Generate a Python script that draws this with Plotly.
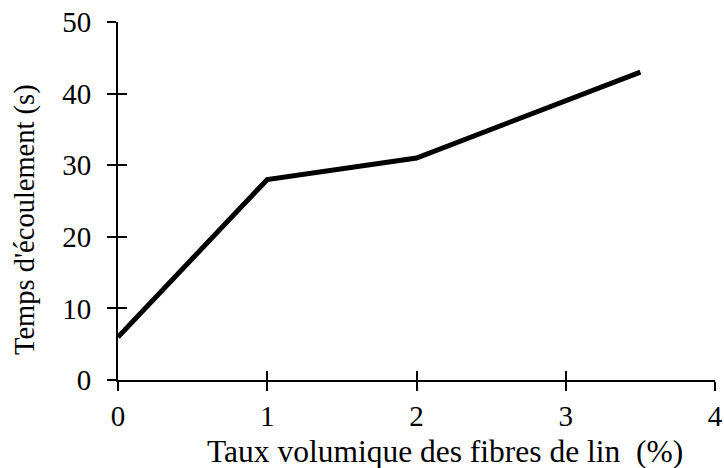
import plotly.graph_objects as go

# data
taux = [0, 1, 2, 3.5]
temps = [6, 28, 31, 43]
x_ticks = [0, 1, 2, 3, 4]
y_ticks = [0, 10, 20, 30, 40, 50]

FONT = "Liberation Serif, Times New Roman, serif"

W, H = 724, 468
L, R, T, B = 118, 9, 22, 88
PW, PH = W - L - R, H - T - B

fig = go.Figure()
fig.add_trace(go.Scatter(
    x=taux, y=temps, mode='lines',
    line=dict(color='black', width=5),
    showlegend=False, hoverinfo='skip'
))

axis_common = dict(
    showgrid=False, zeroline=False, showline=True, linecolor='black', linewidth=2,
    ticks='outside', ticklen=9, tickwidth=2, tickcolor='black', automargin=False,
    ticklabeloverflow='allow',
    tickfont=dict(family=FONT, size=29, color='black'),
)

fig.update_layout(
    width=W, height=H,
    margin=dict(l=L, r=R, t=T, b=B),
    plot_bgcolor='white', paper_bgcolor='white',
    xaxis=dict(range=[0, 4], tickvals=x_ticks, **axis_common),
    yaxis=dict(range=[0, 50], tickvals=y_ticks, ticklabelstandoff=10, **axis_common),
    # inside halves of the crossing ticks
    xaxis2=dict(range=[0, 4], tickvals=x_ticks, overlaying='x', side='bottom',
                anchor='y', showgrid=False, zeroline=False, showline=False,
                ticks='inside', ticklen=9, tickwidth=2, tickcolor='black',
                showticklabels=False, automargin=False),
    yaxis2=dict(range=[0, 50], tickvals=y_ticks, overlaying='y', side='left',
                anchor='x', showgrid=False, zeroline=False, showline=False,
                ticks='inside', ticklen=9, tickwidth=2, tickcolor='black',
                showticklabels=False, automargin=False),
    annotations=[
        dict(text="Taux volumique des fibres de lin  (%)", xref='paper', yref='paper',
             x=(445 - L) / PW, y=-(451 - 380) / PH,
             xanchor='center', yanchor='middle', showarrow=False,
             font=dict(family=FONT, size=31.5, color='black')),
        dict(text="Temps d'écoulement (s)", xref='paper', yref='paper',
             x=-(L - 25) / PW, y=(380 - 220) / PH, textangle=-90,
             xanchor='center', yanchor='middle', showarrow=False,
             font=dict(family=FONT, size=28.5, color='black')),
    ],
)
fig.add_trace(go.Scatter(x=[None], y=[None], xaxis='x2', yaxis='y2',
                         showlegend=False, hoverinfo='skip'))

# drop the default 8px body margin so the figure fills the window exactly
fig.write_html("out.html", config={'displayModeBar': False},
               post_script="document.body.style.margin='0';")
